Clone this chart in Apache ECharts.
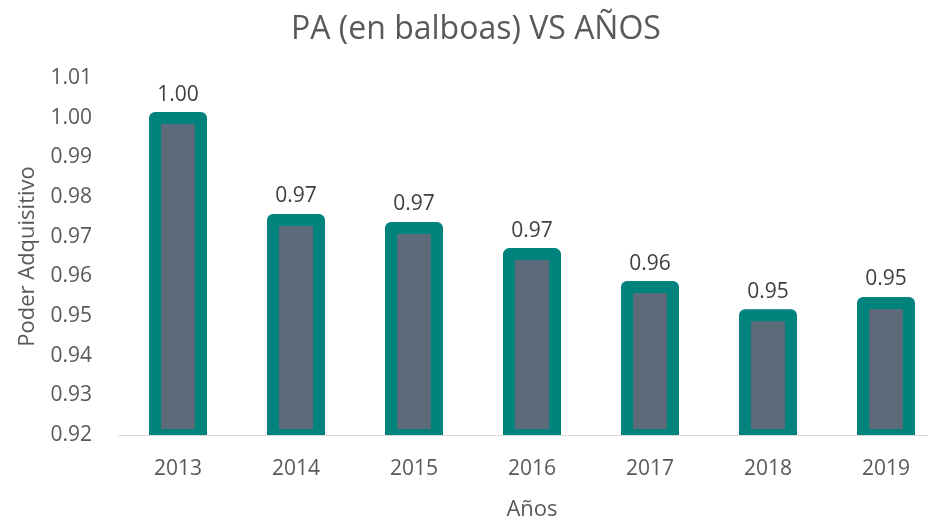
<!DOCTYPE html>
<html>
<head>
<meta charset="utf-8">
<script src="https://cdn.jsdelivr.net/npm/echarts@6/dist/echarts.min.js"></script>
<style>
  html, body { margin: 0; padding: 0; background: #fff; }
  #main { width: 928px; height: 521px; }
</style>
</head>
<body>
<div id="main"></div>
<script>
// datos del grafico
var anios = ['2013', '2014', '2015', '2016', '2017', '2018', '2019'];
var poderAdq = [0.9999, 0.9742, 0.9722, 0.9656, 0.9573, 0.9502, 0.9533];
var yMin = 0.92, yMax = 1.01, yPaso = 0.01;

var fuente = '"Open Sans", sans-serif';
var myChart = echarts.init(document.getElementById('main'));

// barra con borde centrado en el borde (como en Excel)
function dibujaBarra(params, api) {
    var arriba = api.coord([api.value(0), api.value(1)]);
    var base = api.coord([api.value(0), yMin]);
    var ancho = 46;
    return {
        type: 'group',
        children: [{
            type: 'rect',
            shape: { x: arriba[0] - ancho / 2, y: arriba[1], width: ancho, height: base[1] - arriba[1] },
            style: { fill: '#5c6b7a', stroke: '#00827d', lineWidth: 12, lineJoin: 'round' }
        }, {
            type: 'text',
            x: arriba[0],
            y: arriba[1] - 13,
            style: {
                text: api.value(1).toFixed(2),
                textAlign: 'center',
                textVerticalAlign: 'bottom',
                font: '21px "Open Sans", sans-serif',
                fill: '#404040'
            }
        }]
    };
}

var option = {
    animation: false,
    backgroundColor: '#fff',
    title: {
        text: 'PA (en balboas) VS AÑOS',
        left: 286,
        top: 9,
        textStyle: { fontFamily: fuente, fontSize: 32, fontWeight: 'normal', color: '#595959' }
    },
    grid: { left: 119, top: 78, width: 826, height: 357, outerBoundsMode: 'none', containLabel: false },
    xAxis: {
        type: 'category',
        data: anios,
        name: 'Años',
        nameLocation: 'middle',
        nameGap: 64,
        nameTextStyle: { fontFamily: fuente, fontSize: 22, color: '#595959' },
        axisLine: { lineStyle: { color: '#d9d9d9', width: 1 } },
        axisTick: { show: false },
        axisLabel: { fontFamily: fuente, fontSize: 21, color: '#595959', margin: 24 }
    },
    yAxis: {
        type: 'value',
        min: yMin,
        max: yMax,
        interval: yPaso,
        name: 'Poder Adquisitivo',
        nameLocation: 'middle',
        nameRotate: 90,
        nameGap: 80,
        nameTextStyle: { fontFamily: fuente, fontSize: 22, color: '#595959' },
        axisLine: { show: false },
        axisTick: { show: false },
        splitLine: { show: false },
        axisLabel: {
            fontFamily: fuente, fontSize: 21, color: '#595959', margin: 27,
            formatter: function (v) { return v.toFixed(2); }
        }
    },
    series: [{
        type: 'custom',
        clip: true,
        renderItem: dibujaBarra,
        encode: { x: 0, y: 1 },
        data: anios.map(function (a, i) { return [i, poderAdq[i]]; }),
        z: 1
    }]
};

myChart.setOption(option);
</script>
</body>
</html>
